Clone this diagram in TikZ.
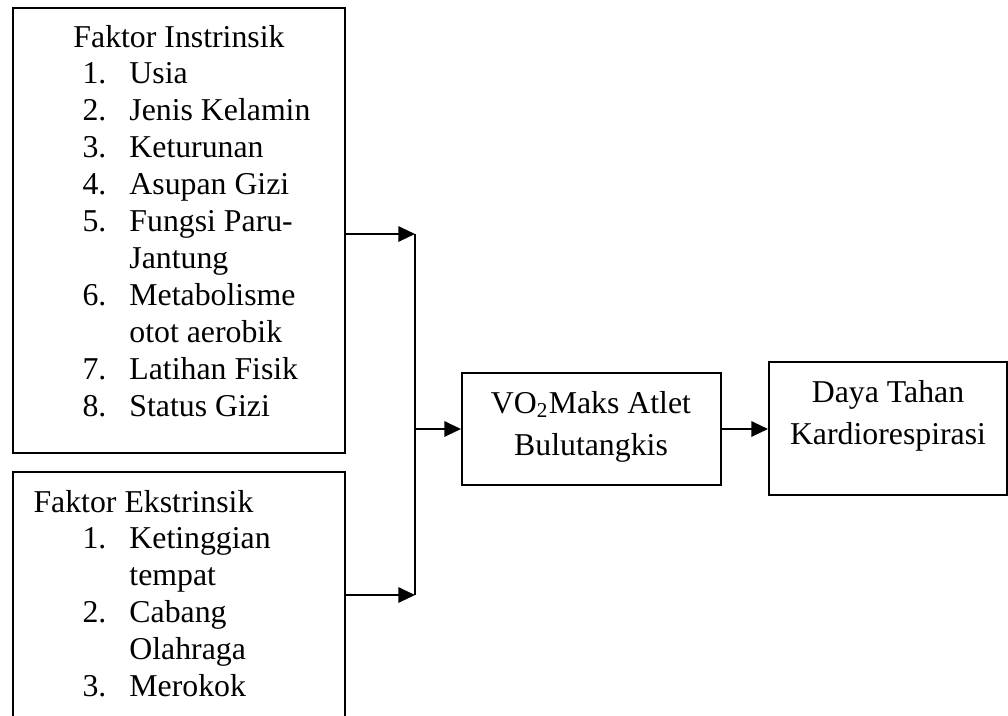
\documentclass[tikz,border=0pt]{standalone}
\usepackage{fontspec}
\setmainfont{Liberation Serif}
\usetikzlibrary{arrows.meta, fit}

\tikzset{
  kotak/.style={draw, line width=0.75pt, inner sep=0pt},
  garis/.style={line width=0.75pt},
  panah/.style={line width=0.75pt, -{Triangle[length=6.3pt, width=5.8pt]}},
  teks/.style={inner sep=0pt, font=\fontsize{12}{14}\selectfont}
}

\begin{document}
\begin{tikzpicture}[x=0.3774pt, y=-0.3774pt]
\useasboundingbox (0,0) rectangle (1008,715);
\clip (0,0) rectangle (1008,715);
\node[kotak, fit={(13,8) (345,453)}] (intr) {};
\node[kotak, fit={(13,472) (345,760)}] (ekstr) {};
\node[kotak, fit={(462,373) (721,485)}] (vo) {};
\node[kotak, fit={(769,362) (1007,495)}] (daya) {};

\node[teks, anchor = base] (intr-judul) at (179,47) {Faktor Instrinsik};
\node[teks, anchor = base west] (intr-isi) at (82,83) {\begin{tabular}[t]{@{}p{17.7pt}@{}l@{}}
1. & Usia\\
2. & Jenis Kelamin\\
3. & Keturunan\\
4. & Asupan Gizi\\
5. & Fungsi Paru-\\
   & Jantung\\
6. & Metabolisme\\
   & otot aerobik\\
7. & Latihan Fisik\\
8. & Status Gizi
\end{tabular}};

\node[teks, anchor = base west] (ekstr-judul) at (33,512) {Faktor Ekstrinsik};
\node[teks, anchor = base west] (ekstr-isi) at (82,548) {\begin{tabular}[t]{@{}p{17.7pt}@{}l@{}}
1. & Ketinggian\\
   & tempat\\
2. & Cabang\\
   & Olahraga\\
3. & Merokok
\end{tabular}};

\node[teks, anchor = base] (vo-isi) at (591,413) {\fontsize{12}{15.85}\selectfont\begin{tabular}[t]{@{}c@{}}
VO\textsubscript{2}Maks Atlet\\
Bulutangkis
\end{tabular}};
\node[teks, anchor = base] (daya-isi) at (888,402) {\fontsize{12}{16.2}\selectfont\begin{tabular}[t]{@{}c@{}}
Daya Tahan\\
Kardiorespirasi
\end{tabular}};

\coordinate (atas) at (415,234);
\coordinate (bawah) at (415,595);
\draw[panah] (intr.east |- atas) -- (atas);
\draw[panah] (ekstr.east |- bawah) -- (bawah);
\draw[garis] (atas) -- (bawah);
\draw[panah] (vo.west -| atas) -- (vo.west);
\draw[panah] (vo.east) -- (daya.west |- vo.east);
\end{tikzpicture}
\end{document}
